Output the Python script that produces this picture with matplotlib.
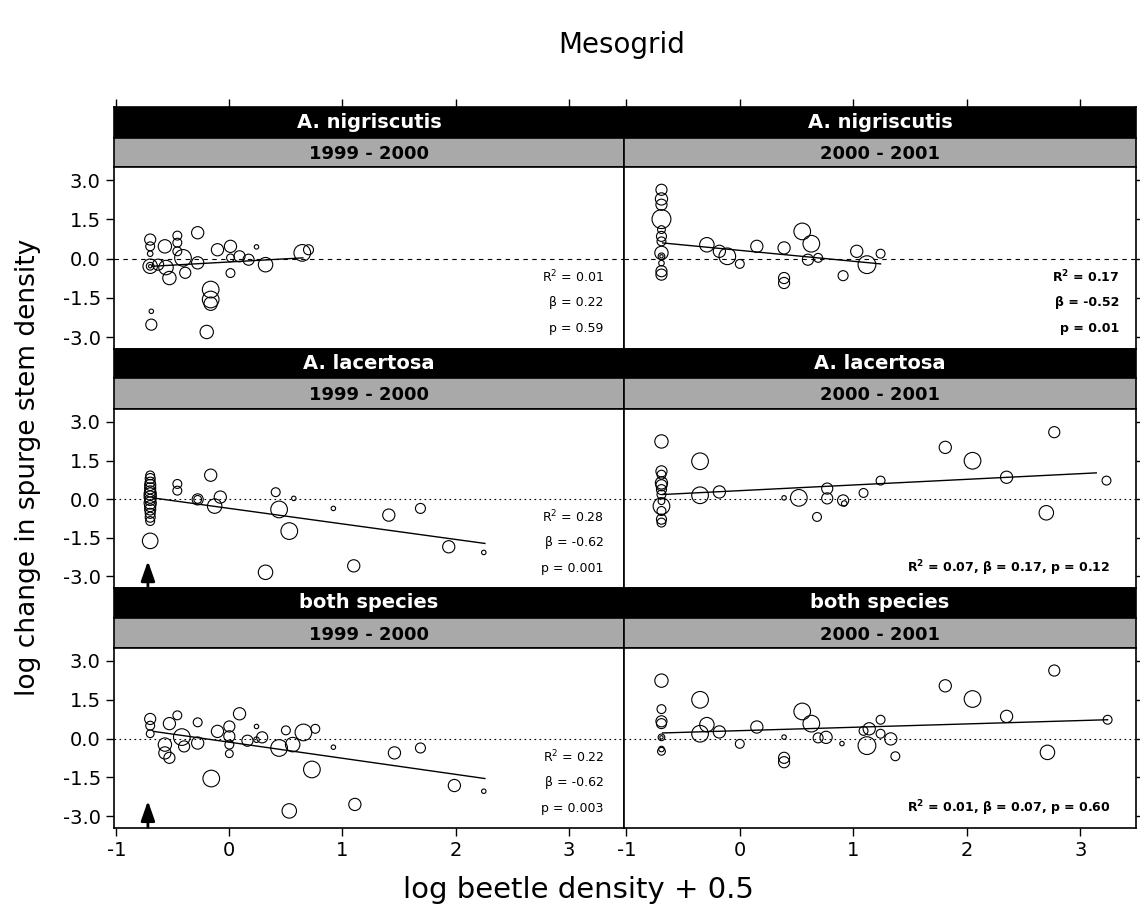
import matplotlib.pyplot as plt

plt.rcParams['font.family'] = ['DejaVu Sans']
plt.rcParams['axes.unicode_minus'] = False
plt.rcParams['mathtext.fontset'] = 'dejavusans'

# ---- data (x, y, bubble value) ----
# A. nigriscutis 1999-2000
nig99_x = [-0.70, -0.70, -0.70, -0.70, -0.70, -0.70, -0.57, -0.46, -0.46, -0.46, -0.41, -0.56,
           -0.53, -0.39, -0.28, -0.28, -0.165, -0.165, -0.165, -0.69, -0.69, -0.20, -0.105,
           0.01, 0.01, 0.01, 0.09, 0.17, 0.24, 0.32, 0.645, 0.70, -0.63]
nig99_y = [0.73, 0.47, 0.19, -0.29, -0.29, -0.29, 0.47, 0.88, 0.61, 0.28, 0.03, -0.34,
           -0.74, -0.54, 0.99, -0.16, -1.18, -1.56, -1.72, -2.01, -2.52, -2.80, 0.34,
           0.47, 0.03, -0.55, 0.09, -0.04, 0.45, -0.23, 0.22, 0.34, -0.23]
nig99_v = [5, 4, 2.5, 6.5, 3.5, 1.5, 6, 4, 4, 4, 7.5, 6.5,
           6, 5, 5.5, 5.5, 7.5, 7.5, 6, 2, 5, 6, 5.5,
           5.5, 3.5, 4, 5, 5, 2, 6.5, 7.5, 4.5, 5]
nig99_fit = ([-0.68, 0.65], [-0.29, 0.03])
nig99_txt = ['R$^2$ = 0.01', 'β = 0.22', 'p = 0.59']

# A. nigriscutis 2000-2001
nig00_x = [-0.69, -0.69, -0.69, -0.69, -0.69, -0.69, -0.69, -0.69, -0.69, -0.69, -0.69, -0.69,
           -0.69, -0.29, -0.18, -0.11, 0.0, 0.15, 0.39, 0.39, 0.39, 0.55, 0.63, 0.60, 0.69,
           0.91, 1.03, 1.12, 1.24]
nig00_y = [2.63, 2.28, 2.06, 1.51, 1.11, 0.85, 0.66, 0.22, 0.09, 0.09, -0.17, -0.48,
           -0.61, 0.53, 0.28, 0.09, -0.20, 0.47, 0.41, -0.74, -0.93, 1.04, 0.57, -0.04, 0.03,
           -0.65, 0.28, -0.23, 0.19]
nig00_v = [5, 5.5, 5, 8.5, 3.5, 4.5, 4, 6, 3, 1.5, 2.5, 5,
           5, 6.5, 5.5, 7.5, 4, 5.5, 5.5, 5, 5, 7.5, 7.5, 5, 4,
           4.5, 5.5, 8, 4]
nig00_fit = ([-0.68, 1.24], [0.60, -0.20])
nig00_txt = ['R$^\\mathbf{2}$ = 0.17', 'β = -0.52', 'p = 0.01']

# A. lacertosa 1999-2000
lac99_x = [-0.70] * 15 + [-0.70, -0.46, -0.46, -0.28, -0.28, -0.165, -0.08, -0.13, 0.41, 0.44,
                          0.57, 0.53, 0.32, 0.92, 1.10, 1.41, 1.69, 1.94, 2.25]
lac99_y = [0.92, 0.80, 0.66, 0.55, 0.42, 0.30, 0.20, 0.08, -0.03, -0.15, -0.27, -0.40, -0.55,
           -0.70, -0.85,
           -1.62, 0.59, 0.33, -0.01, -0.01, 0.93, 0.08, -0.27, 0.27, -0.40,
           0.03, -1.24, -2.84, -0.36, -2.59, -0.62, -0.36, -1.85, -2.07]
lac99_v = [4, 4.5, 4.5, 5, 5, 5, 5.5, 5.5, 5, 5.5, 5, 5, 4.5, 4.5, 4,
           7, 4, 4, 5, 3.5, 5.5, 5.5, 6.5, 4, 7.5,
           2, 7.5, 6.5, 2, 5.5, 5.5, 4.5, 5.5, 2]
lac99_fit = ([-0.68, 2.26], [0.05, -1.72])
lac99_txt = ['R$^2$ = 0.28', 'β = -0.62', 'p = 0.001']

# A. lacertosa 2000-2001
lac00_x = [-0.69] * 12 + [-0.35, -0.35, -0.18, 0.39, 0.52, 0.68, 0.77, 0.77, 0.91, 0.92, 1.09,
                          1.24, 1.81, 2.05, 2.35, 2.70, 2.77, 3.23]
lac00_y = [2.24, 1.08, 0.95, 0.63, 0.54, 0.37, 0.18, -0.08, -0.27, -0.46, -0.78, -0.91,
           1.47, 0.15, 0.28, 0.05, 0.05, -0.69, 0.41, 0.03, -0.05, -0.17, 0.24,
           0.72, 2.01, 1.49, 0.85, -0.53, 2.60, 0.72]
lac00_v = [6, 5, 4, 5.5, 5, 4.5, 4, 3, 7.5, 4, 4.5, 4,
           7.5, 7.5, 5.5, 2, 7.5, 4, 5, 5, 5, 2.5, 4,
           4, 5.5, 7.5, 5.5, 6.5, 5, 4]
lac00_fit = ([-0.68, 3.14], [0.18, 1.02])
lac00_txt = ['R$^\\mathbf{2}$ = 0.07, β = 0.17, p = 0.12']

# both species 1999-2000
both99_x = [-0.70, -0.70, -0.70, -0.46, -0.53, -0.42, -0.57, -0.57, -0.53, -0.40, -0.28, -0.28,
            0.09, -0.105, 0.0, 0.0, 0.0, 0.0, 0.16, 0.24, 0.24, 0.29, 0.44, 0.50, 0.56, 0.655,
            0.76, 0.92, 0.73, -0.16, 0.53, 1.11, 1.46, 1.69, 1.99, 2.25]
both99_y = [0.76, 0.50, 0.19, 0.90, 0.58, 0.06, -0.23, -0.55, -0.74, -0.30, 0.63, -0.17,
            0.96, 0.28, 0.47, 0.09, -0.23, -0.58, -0.08, 0.47, -0.04, 0.05, -0.36, 0.32, -0.23,
            0.24, 0.38, -0.33, -1.19, -1.54, -2.79, -2.54, -0.55, -0.36, -1.81, -2.03]
both99_v = [5, 4, 3.5, 4, 5.5, 7.5, 6, 5.5, 5, 5, 4, 5.5,
            5.5, 5.5, 5, 5, 4, 3.5, 5, 2, 2.5, 5, 7.5, 4, 6.5, 7.5,
            4, 2, 7.5, 7.5, 6.5, 5.5, 5.5, 4.5, 5.5, 2]
both99_fit = ([-0.67, 2.26], [0.28, -1.54])
both99_txt = ['R$^2$ = 0.22', 'β = -0.62', 'p = 0.003']

# both species 2000-2001
both00_x = [-0.69, -0.69, -0.69, -0.69, -0.69, -0.69, -0.69, -0.69, -0.35, -0.35, -0.29, -0.18,
            0.0, 0.15, 0.39, 0.39, 0.39, 0.55, 0.63, 0.69, 0.76, 0.90, 1.09, 1.14, 1.12, 1.24,
            1.24, 1.33, 1.37, 1.81, 2.05, 2.35, 2.71, 2.77, 3.24]
both00_y = [2.24, 1.14, 0.67, 0.58, 0.05, 0.05, -0.40, -0.49, 1.50, 0.19, 0.54, 0.26,
            -0.20, 0.45, 0.06, -0.74, -0.91, 1.05, 0.58, 0.03, 0.05, -0.19, 0.30, 0.38, -0.27,
            0.73, 0.19, -0.01, -0.68, 2.04, 1.53, 0.86, -0.53, 2.63, 0.73]
both00_v = [6, 4, 5, 4.5, 3, 1.5, 2.5, 3.5, 7.5, 7.5, 6.5, 5.5,
            4, 5.5, 2, 5, 5, 7.5, 7.5, 4.5, 5.5, 2, 4, 5.5, 8, 4,
            4, 5.5, 4, 5.5, 7.5, 5.5, 6.5, 5, 4]
both00_fit = ([-0.68, 3.24], [0.22, 0.73])
both00_txt = ['R$^\\mathbf{2}$ = 0.01, β = 0.07, p = 0.60']

species = ['A. nigriscutis', 'A. lacertosa', 'both species']
periods = ['1999 - 2000', '2000 - 2001']
y_ticks = [-3.0, -1.5, 0.0, 1.5, 3.0]
x_ticks = [-1, 0, 1, 2, 3]
arrow_x = -0.72

panels = [
    [(nig99_x, nig99_y, nig99_v, nig99_fit, nig99_txt),
     (nig00_x, nig00_y, nig00_v, nig00_fit, nig00_txt)],
    [(lac99_x, lac99_y, lac99_v, lac99_fit, lac99_txt),
     (lac00_x, lac00_y, lac00_v, lac00_fit, lac00_txt)],
    [(both99_x, both99_y, both99_v, both99_fit, both99_txt),
     (both00_x, both00_y, both00_v, both00_fit, both00_txt)],
]

# ---- layout in pixels ----
W, H = 1140, 923
cols = [(114, 624), (624, 1136)]
rows = [(107, 138, 167, 349), (349, 378, 409, 588), (588, 618, 648, 828)]
XLIM = (-1.02, 3.49)
YLIM = (-3.45, 3.5)


def box(x0, y0, x1, y1):
    return [x0 / W, 1 - y1 / H, (x1 - x0) / W, (y1 - y0) / H]


def area(v):
    return (2 * v * 0.8) ** 2


fig = plt.figure(figsize=(11.4, 9.23), dpi=100)

for r, (yb, yg, yp, ye) in enumerate(rows):
    for c, (x0, x1) in enumerate(cols):
        # strips
        sb = fig.add_axes(box(x0, yb, x1, yg))
        sb.set_facecolor('black')
        sb.set_xlim(XLIM)
        sb.set_yticks([])
        sb.text(0.5, 0.5, species[r], transform=sb.transAxes, ha='center', va='center',
                color='white', fontsize=14, fontweight='bold')
        if r == 0:
            sb.xaxis.set_ticks_position('top')
            sb.set_xticks(x_ticks)
            sb.set_xticklabels([])
            sb.tick_params(axis='x', direction='out', length=6, width=1)
        else:
            sb.set_xticks([])
        sg = fig.add_axes(box(x0, yg, x1, yp))
        sg.set_facecolor('#a9a9a9')
        sg.set_xticks([])
        sg.set_yticks([])
        sg.text(0.5, 0.45, periods[c], transform=sg.transAxes, ha='center', va='center',
                color='black', fontsize=13, fontweight='bold')
        for s in list(sb.spines.values()) + list(sg.spines.values()):
            s.set_linewidth(1.2)

        # plot panel
        xs, ys, vs, fit, txt = panels[r][c]
        ax = fig.add_axes(box(x0, yp, x1, ye))
        ax.set_xlim(XLIM)
        ax.set_ylim(YLIM)
        ax.axhline(0, color='black', lw=0.8,
                   dashes=(4, 4) if r == 0 else (1.5, 3))
        ax.scatter(xs, ys, s=[area(v) for v in vs], facecolors='none',
                   edgecolors='black', linewidths=0.8, zorder=3)
        ax.plot(fit[0], fit[1], color='black', lw=1.0, zorder=4)
        for s in ax.spines.values():
            s.set_linewidth(1.2)

        if c == 0 and r > 0:
            ax.annotate('', xy=(arrow_x, -2.4), xytext=(arrow_x, -3.42),
                        arrowprops=dict(arrowstyle='-|>,head_length=1.0,head_width=0.35',
                                        color='black', lw=2.0, mutation_scale=12,
                                        shrinkA=0, shrinkB=0))

        ax.set_yticks(y_ticks)
        if c == 0:
            ax.set_yticklabels(['%.1f' % t for t in y_ticks])
            ax.tick_params(axis='y', direction='out', length=6, width=1,
                           labelsize=14, left=True, right=False)
        else:
            ax.yaxis.set_ticks_position('right')
            ax.set_yticklabels([])
            ax.tick_params(axis='y', direction='out', length=5, width=1)

        if r == 2:
            ax.set_xticks(x_ticks)
            ax.set_xticklabels([str(t) for t in x_ticks])
            ax.tick_params(axis='x', direction='out', length=6, width=1, labelsize=14)
        else:
            ax.set_xticks([])

        weight = 'normal' if c == 0 else 'bold'
        xr = 0.96 if c == 0 else (0.967 if r == 0 else 0.95)
        if len(txt) == 3:
            for t, yy in zip(txt, [0.396, 0.253, 0.11]):
                ax.text(xr, yy, t, transform=ax.transAxes, ha='right', va='center',
                        fontsize=9, fontweight=weight)
        else:
            ax.text(xr, 0.11, txt[0], transform=ax.transAxes, ha='right', va='center',
                    fontsize=9, fontweight=weight)

fig.text(0.545, 0.951, 'Mesogrid', ha='center', va='center', fontsize=20)
fig.text(0.025, 0.494, 'log change in spurge stem density', ha='center', va='center',
         rotation=90, fontsize=19)
fig.text(0.507, 0.036, 'log beetle density + 0.5', ha='center', va='center', fontsize=21)

fig.savefig('out.png', dpi=100)
